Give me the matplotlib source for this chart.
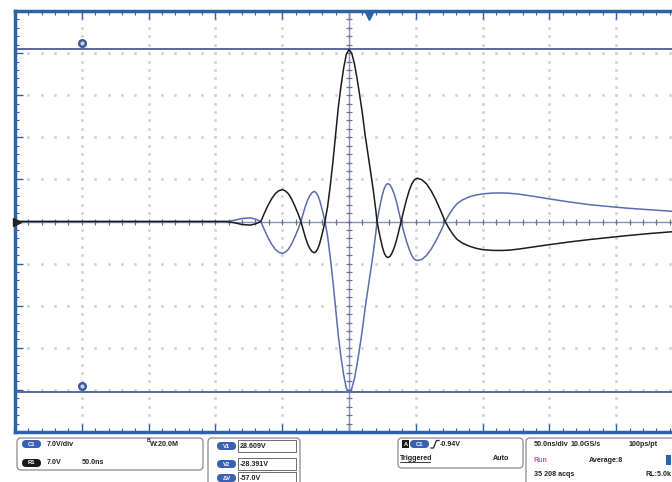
import numpy as np
import matplotlib
matplotlib.use("Agg")
import matplotlib.pyplot as plt
from matplotlib.patches import FancyBboxPatch, Rectangle

plt.rcParams["font.family"] = ["Liberation Sans", "DejaVu Sans"]

# trace readings: time in ns from screen centre, voltage in V
t_ns = [-250, -92, -86, -80, -74, -70,
        -66, -63.3, -60.7, -58, -55.3, -52.7, -50, -47.7, -45.3, -43, -40.7, -38.3,
        -36, -34.3, -32.7, -31, -29.3, -27.7, -26, -24.7, -23.3, -22, -20.7, -19.3,
        -18, -16, -14, -12, -10, -8, -6, -4, -2, 0, 2, 4, 6, 8, 10, 12, 14, 16, 18, 20,
        21, 22.3, 23.7, 25, 26.3, 27.7, 29, 30.7, 32.3, 34, 35.7, 37.3,
        39, 41, 43, 45, 47, 49, 51, 54.5, 58, 61.5, 65, 68.5,
        72, 75, 78, 81, 85, 90, 95, 100, 107, 114, 120, 127, 134, 142, 150, 165,
        180, 195, 208, 225, 242, 250]
v_black = [0, 0, -0.2, -0.5, -0.6, -0.4,
           0, 1.4, 2.65, 3.75, 4.6, 5.1, 5.3, 5.1, 4.6, 3.75, 2.65, 1.4,
           0, -1.35, -2.6, -3.7, -4.5, -5.0, -5.2, -5.0, -4.5, -3.7, -2.6, -1.35,
           0, 2.5, 6, 10, 14.5, 19, 22.5, 25.5, 27.8, 28.6, 28.0, 26.3, 23.8, 21,
           18, 14.5, 11.5, 8.5, 5.5, 2,
           0, -1.55, -3.0, -4.25, -5.2, -5.8, -6.0, -5.8, -5.2, -4.25, -3.0, -1.55,
           0, 1.85, 3.6, 5.1, 6.25, 6.95, 7.2, 6.95, 6.25, 5.1, 3.6, 1.85,
           0, -1.2, -2.2, -3.0, -3.6, -4.1, -4.45, -4.68, -4.8, -4.82, -4.76,
           -4.58, -4.36, -4.1, -3.85, -3.4, -3.0, -2.65, -2.35, -2.0, -1.7, -1.6]
v_blue = [0, 0, 0.2, 0.5, 0.6, 0.4,
          0, -1.4, -2.65, -3.75, -4.6, -5.1, -5.3, -5.1, -4.6, -3.75, -2.65, -1.4,
          0, 1.3, 2.5, 3.55, 4.3, 4.8, 5.0, 4.8, 4.3, 3.55, 2.5, 1.3,
          0, -2.5, -6, -10, -14.5, -19, -22.5, -25.5, -27.7, -28.4, -27.8, -26.2,
          -23.8, -21, -18, -14.5, -11.5, -8.5, -5.5, -2,
          0, 1.6, 3.15, 4.45, 5.45, 6.1, 6.3, 6.1, 5.45, 4.45, 3.15, 1.6,
          0, -1.7, -3.25, -4.6, -5.65, -6.3, -6.5, -6.3, -5.65, -4.6, -3.25, -1.7,
          0, 1.2, 2.2, 3.0, 3.6, 4.1, 4.4, 4.6, 4.72, 4.75, 4.7, 4.55, 4.32,
          4.05, 3.75, 3.25, 2.8, 2.48, 2.22, 1.95, 1.7, 1.6]

cursor_v1 = 28.609
cursor_v2 = -28.391
cursor_mark_t = -200
trigger_t = 15

volts_per_div = 7.0
ns_per_div = 50.0

W, H = 672, 482
BORDER = "#2e62a8"
BLUE = "#5a6cb0"
CURSOR = "#4c5d93"


def px_rect(x0, y0, x1, y1):
    return [x0 / W, 1 - y1 / H, (x1 - x0) / W, (y1 - y0) / H]


fig = plt.figure(figsize=(W / 100, H / 100), dpi=100)
fig.patch.set_facecolor("white")

ax = fig.add_axes(px_rect(15, 11, 683, 432))
xmax = 5 * ns_per_div
ymax = 5 * volts_per_div
ax.set_xlim(-xmax, xmax)
ax.set_ylim(-ymax, ymax)

# dotted graticule
minor_x = np.arange(-xmax, xmax + 1, ns_per_div / 5)
minor_y = np.arange(-ymax, ymax + 0.01, volts_per_div / 5)
for gy in np.arange(-ymax + volts_per_div, ymax, volts_per_div):
    ax.plot(minor_x, np.full_like(minor_x, gy), ls="none", marker="s", ms=1.0,
            color="#d3d3d3", zorder=1)
for gx in np.arange(-xmax + ns_per_div, xmax, ns_per_div):
    ax.plot(np.full_like(minor_y, gx), minor_y, ls="none", marker="s", ms=1.0,
            color="#d3d3d3", zorder=1)

# centre crosshair with ticks
ax.axhline(0, color="#8a92b4", lw=1.0, zorder=2)
ax.axvline(0, color="#8a92b4", lw=1.0, zorder=2)
ax.plot(minor_x, np.zeros_like(minor_x), ls="none", marker="|", ms=4,
        mew=0.8, color="#6a7090", zorder=2)
ax.plot(np.zeros_like(minor_y), minor_y, ls="none", marker="_", ms=4,
        mew=0.8, color="#6a7090", zorder=2)

# cursors
for cv in (cursor_v1, cursor_v2):
    ax.axhline(cv, color=CURSOR, lw=1.3, zorder=3)
    ax.plot(cursor_mark_t, cv + 1.0, marker="o", ms=5.5, color="#3a5898", zorder=6)
    ax.plot(cursor_mark_t, cv + 1.0, marker="o", ms=2.0, color="#c8d2ee", zorder=7)

# traces
ax.plot(t_ns, v_blue, color=BLUE, lw=1.1, zorder=4)
ax.plot(t_ns, v_black, color="#1c1c1c", lw=1.1, zorder=5)

# border and ticks
for side in ("left", "top", "bottom"):
    ax.spines[side].set_color(BORDER)
    ax.spines[side].set_linewidth(2.5)
ax.spines["right"].set_visible(False)
ax.set_xticks(np.arange(-xmax, xmax + 1, ns_per_div))
ax.set_xticks(minor_x, minor=True)
ax.set_yticks(np.arange(-ymax, ymax + 0.01, volts_per_div))
ax.set_yticks(minor_y, minor=True)
ax.tick_params(which="both", direction="in", top=True, bottom=True,
               left=True, right=False, labelleft=False, labelbottom=False,
               color=BORDER)
ax.tick_params(which="major", length=6, width=1.0)
ax.tick_params(which="minor", length=3, width=0.8)

ax.plot(trigger_t, ymax - 0.9, marker="v", ms=6, color=BORDER,
        clip_on=False, zorder=8)
ax.plot(-xmax + 1.5, 0, marker=">", ms=6, color="#222222",
        clip_on=False, zorder=8)

# status area drawn in pixel coordinates
ov = fig.add_axes([0, 0, 1, 1])
ov.set_xlim(0, W)
ov.set_ylim(H, 0)
ov.axis("off")
ov.patch.set_visible(False)

txt = dict(fontsize=5.1, weight="bold", color="#222222", va="center")


def box(x0, y0, x1, y1):
    ov.add_patch(FancyBboxPatch((x0, y0), x1 - x0, y1 - y0,
                                boxstyle="round,pad=0,rounding_size=4",
                                fc="white", ec="#8a8a8a", lw=0.9))


def pill(x0, y, label, fc):
    ov.add_patch(FancyBboxPatch((x0, y - 4), 19, 8,
                                boxstyle="round,pad=0,rounding_size=4",
                                fc=fc, ec="none"))
    ov.text(x0 + 9.5, y, label, fontsize=4.2, weight="bold",
            color="white", ha="center", va="center")


box(17, 438, 203, 470)
pill(22, 444, "C1", "#3b62b0")
ov.text(47, 444, "7.0V/div", **txt)
ov.text(147, 440, "B", fontsize=3.6, weight="bold", color="#222222", va="center")
ov.text(150, 445, "W:20.0M", **txt)
pill(22, 463, "R1", "#1a1a1a")
ov.text(47, 463, "7.0V", **txt)
ov.text(82, 463, "50.0ns", **txt)

box(208, 438, 300, 492)
for yy, lab, val in ((446, "V1", "28.609V"), (464, "V2", "-28.391V"),
                     (478, "\u0394V", "-57.0V")):
    pill(217, yy, lab, "#3b62b0")
    ov.add_patch(Rectangle((238, yy - 6), 58, 12, fc="white",
                           ec="#555555", lw=0.6))
    ov.text(240, yy, val, **txt)

box(398, 438, 523, 468)
ov.add_patch(Rectangle((402, 440), 7, 8, fc="#1a1a1a", ec="none"))
ov.text(405.5, 444, "A", fontsize=4.2, weight="bold", color="white",
        ha="center", va="center")
pill(410, 444, "C1", "#3b62b0")
ov.plot([431, 433.5, 435, 436.5, 439], [448, 448, 444, 440.5, 440.5],
        color="#222222", lw=0.9)
ov.text(440, 444, "-0.94V", **txt)
ov.text(400, 458, "Triggered", **txt)
ov.plot([400, 430], [462, 462], color="#222222", lw=0.6)
ov.text(493, 458, "Auto", **txt)

box(526, 438, 690, 492)
ov.text(534, 445, "50.0ns/div", **txt)
ov.text(571, 445, "10.0GS/s", **txt)
ov.text(629, 445, "100ps/pt", **txt)
ov.text(534, 460, "Run", fontsize=5.1, weight="bold", color="#e0509a",
        va="center")
ov.text(589, 460, "Average:8", **txt)
ov.text(534, 474, "35 208 acqs", **txt)
ov.text(645, 474, "RL:5.0k", **txt)
ov.add_patch(Rectangle((666, 455), 5, 10, fc="#2e62a8", ec="none"))

fig.savefig("out.png", dpi=100)
